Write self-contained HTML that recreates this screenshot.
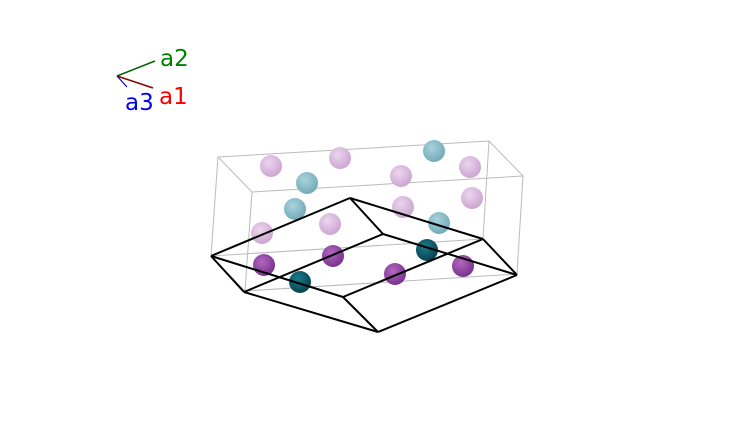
<!DOCTYPE html><html><head><style>html,body{margin:0;background:#fff}svg{display:block}</style></head><body>
<svg width="735" height="433" viewBox="0 0 735 433" xmlns="http://www.w3.org/2000/svg">
<defs>
<radialGradient id="lp" cx="0.4" cy="0.35" r="0.7"><stop offset="0" stop-color="#ecd6ee"/><stop offset="1" stop-color="#c9a2cf"/></radialGradient>
<radialGradient id="lt" cx="0.4" cy="0.35" r="0.7"><stop offset="0" stop-color="#a9d3dc"/><stop offset="1" stop-color="#6fa8b5"/></radialGradient>
<radialGradient id="dp" cx="0.4" cy="0.35" r="0.7"><stop offset="0" stop-color="#b366c0"/><stop offset="1" stop-color="#73308a"/></radialGradient>
<radialGradient id="dt" cx="0.4" cy="0.35" r="0.7"><stop offset="0" stop-color="#1e7a8c"/><stop offset="1" stop-color="#043f4d"/></radialGradient>
</defs>
<g stroke="#bbb" stroke-width="1" fill="none">
<polygon points="218,157 489,141 523,176 252,192"/>
<line x1="218" y1="157" x2="211" y2="256"/>
<line x1="252" y1="192" x2="245" y2="291"/>
<line x1="523" y1="176" x2="517" y2="274"/>
<line x1="489" y1="141" x2="483" y2="239"/>
<polyline points="211,256 483,239 517,274 245,291 211,256"/>
</g>
<g>
<circle cx="271" cy="166" r="11" fill="url(#lp)"/><circle cx="340" cy="158" r="11" fill="url(#lp)"/>
<circle cx="401" cy="176" r="11" fill="url(#lp)"/><circle cx="470" cy="167" r="11" fill="url(#lp)"/>
<circle cx="472" cy="198" r="11" fill="url(#lp)"/><circle cx="403" cy="207" r="11" fill="url(#lp)"/>
<circle cx="330" cy="224" r="11" fill="url(#lp)"/><circle cx="262" cy="233" r="11" fill="url(#lp)"/>
<circle cx="434" cy="151" r="11" fill="url(#lt)"/><circle cx="307" cy="183" r="11" fill="url(#lt)"/>
<circle cx="295" cy="209" r="11" fill="url(#lt)"/><circle cx="439" cy="223" r="11" fill="url(#lt)"/>
<circle cx="264" cy="265" r="11" fill="url(#dp)"/><circle cx="333" cy="256" r="11" fill="url(#dp)"/>
<circle cx="395" cy="274" r="11" fill="url(#dp)"/><circle cx="463" cy="266" r="11" fill="url(#dp)"/>
<circle cx="300" cy="282" r="11" fill="url(#dt)"/><circle cx="427" cy="250" r="11" fill="url(#dt)"/>
</g>
<g stroke="#000" stroke-width="2" fill="none" stroke-linejoin="round">
<line x1="211" y1="256" x2="350" y2="198"/><line x1="350" y1="198" x2="383" y2="234"/>
<line x1="350" y1="198" x2="483" y2="239"/><line x1="483" y1="239" x2="517" y2="275"/>
<line x1="383" y1="234" x2="517" y2="275"/><line x1="383" y1="234" x2="244" y2="292"/>
<line x1="211" y1="256" x2="244" y2="292"/><line x1="211" y1="256" x2="343" y2="297"/>
<line x1="244" y1="292" x2="378" y2="332"/><line x1="343" y1="297" x2="378" y2="332"/>
<line x1="378" y1="332" x2="517" y2="275"/><line x1="343" y1="297" x2="483" y2="239"/>
</g>
<line x1="117" y1="76" x2="155" y2="61" stroke="#006400" stroke-width="1.5"/>
<line x1="117" y1="76" x2="153" y2="88" stroke="#8b0000" stroke-width="1.5"/>
<line x1="117" y1="76" x2="127" y2="87" stroke="#0000cd" stroke-width="1.2"/>
<g font-family="'DejaVu Sans','Liberation Sans',sans-serif" font-size="23">
<text x="160" y="66" fill="#008000">a2</text>
<text x="159" y="104" fill="#ff0000">a1</text>
<text x="125" y="110" fill="#0000ff">a3</text>
</g>
</svg>
</body></html>
